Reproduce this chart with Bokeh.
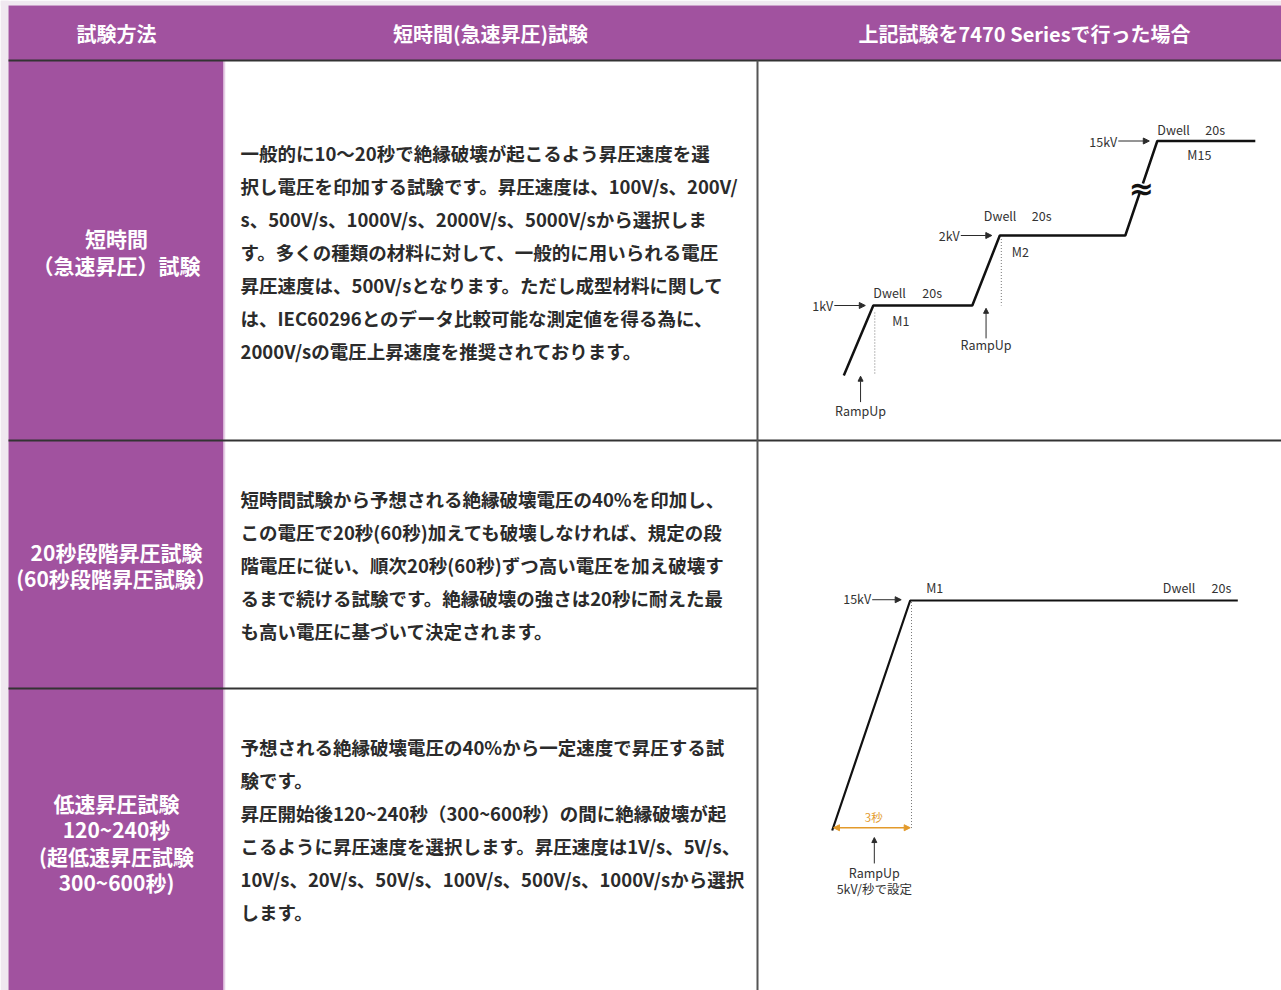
from bokeh.plotting import figure
from bokeh.models import Range1d, Arrow, NormalHead
from bokeh.core.properties import value
from bokeh.embed import file_html
from bokeh.resources import INLINE

# ---------------- data ----------------
HEADERS = ["試験方法", "短時間(急速昇圧)試験", "上記試験を7470 Seriesで行った場合"]

ROW_LABELS = [
    ["短時間", "（急速昇圧）試験"],
    ["20秒段階昇圧試験", "(60秒段階昇圧試験）"],
    ["低速昇圧試験", "120~240秒", "(超低速昇圧試験", "300~600秒)"],
]

ROW1_TEXT = [
    "一般的に10〜20秒で絶縁破壊が起こるよう昇圧速度を選",
    "択し電圧を印加する試験です。昇圧速度は、100V/s、200V/",
    "s、500V/s、1000V/s、2000V/s、5000V/sから選択しま",
    "す。多くの種類の材料に対して、一般的に用いられる電圧",
    "昇圧速度は、500V/sとなります。ただし成型材料に関して",
    "は、IEC60296とのデータ比較可能な測定値を得る為に、",
    "2000V/sの電圧上昇速度を推奨されております。",
]
ROW2_TEXT = [
    "短時間試験から予想される絶縁破壊電圧の40%を印加し、",
    "この電圧で20秒(60秒)加えても破壊しなければ、規定の段",
    "階電圧に従い、順次20秒(60秒)ずつ高い電圧を加え破壊す",
    "るまで続ける試験です。絶縁破壊の強さは20秒に耐えた最",
    "も高い電圧に基づいて決定されます。",
]
ROW3_TEXT = [
    "予想される絶縁破壊電圧の40%から一定速度で昇圧する試",
    "験です。",
    "昇圧開始後120~240秒（300~600秒）の間に絶縁破壊が起",
    "こるように昇圧速度を選択します。昇圧速度は1V/s、5V/s、",
    "10V/s、20V/s、50V/s、100V/s、500V/s、1000V/sから選択",
    "します。",
]

# step test profile (schematic time units, kV)
STEP_T = [0, 5.9, 25.7, 31.2, 56.3, 62.7, 82.3]
STEP_KV = [0, 1, 1, 2, 2, 15, 15]
STEP_MARKS = ["M1", "M2", "M15"]
DWELL_LABEL = ["Dwell", "20s"]

# fast ramp profile (s, kV)
FAST_T = [0, 3, 15.6]
FAST_KV = [0, 15, 15]
FAST_MARK = "M1"
FAST_TIME_LABEL = "3秒"
FAST_RAMP_LABEL = ["RampUp", "5kV/秒で設定"]

# ---------------- style / layout ----------------
PURPLE = "#a1529f"
LAVENDER = "#f0e8f0"
INK = "#2b2b2b"
GRID = "#333333"
ORANGE = "#e39a2b"
JP = value("Noto Sans CJK JP")

W, H = 1281, 990
XL, XR, YT, YB = 0, W, 0, H
COL_X = [8, 223, 757, XR]
HEAD_TOP = 5
HEAD_BOTTOM = 60
ROW_Y = [60, 440, 688, YB]


def lin_range(v_a, px_a, v_b, px_b, px_lo, px_hi):
    k = (v_b - v_a) / (px_b - px_a)
    return Range1d(start=v_a + (px_lo - px_a) * k, end=v_a + (px_hi - px_a) * k)


p = figure(width=W, height=H, output_backend="svg", toolbar_location=None,
           x_range=Range1d(XL, XR), y_range=Range1d(YB, YT),
           x_axis_type=None, y_axis_type=None, min_border=0,
           background_fill_color="white", border_fill_color="white")
p.outline_line_color = None
p.grid.visible = False

# diagram 1 scales: 5 px per time unit, 70 px per display level
D1_PXT, D1_PXL = 5.0, 70.0
p.extra_x_ranges["d1x"] = lin_range(0, 843.3, 1, 843.3 + D1_PXT, XL, XR)
p.extra_y_ranges["d1y"] = lin_range(0, 375, 1, 375 - D1_PXL, YB, YT)
# diagram 2 scales: 26 px per second, 230 px per 15 kV
D2_PXT, D2_PXV = 26.0, 230.0 / 15
p.extra_x_ranges["d2x"] = lin_range(0, 831.7, 1, 831.7 + D2_PXT, XL, XR)
p.extra_y_ranges["d2y"] = lin_range(0, 830, 1, 830 - D2_PXV, YB, YT)

# ---------------- table ----------------
p.quad(left=[XL, XL], right=[XR, COL_X[0]], top=[YT, YT], bottom=[HEAD_TOP, YB],
       color=LAVENDER, line_color=None)
p.quad(left=[COL_X[0]], right=[XR], top=[HEAD_TOP], bottom=[HEAD_BOTTOM], color=PURPLE, line_color=None)
p.quad(left=[COL_X[0]], right=[COL_X[1]], top=[HEAD_BOTTOM], bottom=[YB], color=PURPLE, line_color=None)
p.segment(x0=[COL_X[1] + 1], x1=[COL_X[1] + 1], y0=[HEAD_BOTTOM], y1=[YB],
          line_color="#e6cfe5", line_width=1.5)

p.segment(x0=[COL_X[0], COL_X[0], COL_X[0]], x1=[XR, XR, COL_X[2]],
          y0=[ROW_Y[0], ROW_Y[1], ROW_Y[2]], y1=[ROW_Y[0], ROW_Y[1], ROW_Y[2]],
          line_color=GRID, line_width=2)
p.segment(x0=[COL_X[2]], x1=[COL_X[2]], y0=[ROW_Y[0]], y1=[YB], line_color="#555555", line_width=2)

p.text(x=[116, 490, 1024], y=[33, 33, 33], text=HEADERS, text_font=JP, text_font_size="20px",
       text_font_style="bold", text_color="white", text_align="center", text_baseline="middle")

label_centers = [251, 564.5, 842]
for lines, yc in zip(ROW_LABELS, label_centers):
    n = len(lines)
    ys = [yc + (i - (n - 1) / 2) * 26.5 for i in range(n)]
    p.text(x=[116] * n, y=ys, text=lines, text_font=JP, text_font_size="21px",
           text_font_style="bold", text_color="white", text_align="center", text_baseline="middle")

for lines, y0 in [(ROW1_TEXT, 152), (ROW2_TEXT, 498), (ROW3_TEXT, 746)]:
    n = len(lines)
    p.text(x=[240] * n, y=[y0 + i * 33 for i in range(n)], text=lines, text_font=JP,
           text_font_size="18.5px", text_font_style="bold", text_color=INK,
           text_align="left", text_baseline="middle")


# ---------------- diagram 1: step test ----------------
BREAK_SCALE = 1.35 / 13


def brk(kv):
    return kv if kv <= 2 else 2 + (kv - 2) * BREAK_SCALE


lvl = [brk(v) for v in STEP_KV]
d1 = dict(x_range_name="d1x", y_range_name="d1y")
p.line(STEP_T, lvl, line_color="#111111", line_width=2.5, **d1)

corner_idx = [1, 3, 5]
ct = [STEP_T[i] for i in corner_idx]
cl = [lvl[i] for i in corner_idx]
ckv = [STEP_KV[i] for i in corner_idx]

lab_font = dict(text_font=JP, text_font_size="12.5px", text_color="#333333")
# kV level labels + arrows
p.text(x=[t - 40 / D1_PXT for t in ct], y=cl, text=[f"{v}kV" for v in ckv],
       text_align="right", text_baseline="middle", **lab_font, **d1)
for t, l in zip(ct, cl):
    p.add_layout(Arrow(end=NormalHead(size=6, fill_color=INK, line_color=INK),
                       x_start=t - 39 / D1_PXT, y_start=l, x_end=t - 8 / D1_PXT, y_end=l,
                       line_color=INK, line_width=1, **d1))
# Dwell / 20s / M labels
dwell_dx = [0, -16, 0]
dwell_dy = [13, 20, 12]
s20_dx = [49, 32, 48]
m_dx = [19, 12, 30]
m_dy = [15, 16, 13]
p.text(x=[t + dx / D1_PXT for t, dx in zip(ct, dwell_dx)],
       y=[l + dy / D1_PXL for l, dy in zip(cl, dwell_dy)], text=[DWELL_LABEL[0]] * 3,
       text_align="left", text_baseline="middle", **lab_font, **d1)
p.text(x=[t + dx / D1_PXT for t, dx in zip(ct, s20_dx)],
       y=[l + dy / D1_PXL for l, dy in zip(cl, dwell_dy)], text=[DWELL_LABEL[1]] * 3,
       text_align="left", text_baseline="middle", **lab_font, **d1)
p.text(x=[t + dx / D1_PXT for t, dx in zip(ct, m_dx)],
       y=[l - dy / D1_PXL for l, dy in zip(cl, m_dy)], text=STEP_MARKS,
       text_align="left", text_baseline="middle", **lab_font, **d1)
# dotted drops under M1, M2
p.segment(x0=[ct[0] + 0.3, ct[1] + 0.3], x1=[ct[0] + 0.3, ct[1] + 0.3],
          y0=[cl[0] - 0.1, cl[1] - 0.05], y1=[lvl[0], lvl[1]],
          line_color="#777777", line_width=1, line_dash="1 2", **d1)
# RampUp arrows
r1 = (STEP_T[0] + STEP_T[1]) / 2 + 0.4
r2 = (STEP_T[2] + STEP_T[3]) / 2
for x, ys, ye in [(r1, lvl[0] - 0.38, lvl[0] - 0.01), (r2, lvl[2] - 0.47, lvl[2] - 0.04)]:
    p.add_layout(Arrow(end=NormalHead(size=5, fill_color=INK, line_color=INK),
                       x_start=x, y_start=ys, x_end=x, y_end=ye,
                       line_color=INK, line_width=1, **d1))
p.text(x=[r1, r2], y=[lvl[0] - 0.5, lvl[2] - 0.56], text=["RampUp", "RampUp"],
       text_align="center", text_baseline="middle", **lab_font, **d1)
# axis break mark on the last ramp: gap in the line + double tilde
bx0, bx1 = STEP_T[4], STEP_T[5]
bl0, bl1 = lvl[4], lvl[5]
bm = 0.5
gap = 0.05
gx = [bx0 + (bx1 - bx0) * (bm - gap), bx0 + (bx1 - bx0) * (bm + gap)]
gy = [bl0 + (bl1 - bl0) * (bm - gap), bl0 + (bl1 - bl0) * (bm + gap)]
p.line(gx, gy, line_color="white", line_width=5, **d1)
p.text(x=[bx0 + (bx1 - bx0) * bm], y=[bl0 + (bl1 - bl0) * bm], text=["≈"],
       text_font=value("DejaVu Sans"), text_font_size="30px", text_font_style="bold",
       text_color="#111111", text_align="center", text_baseline="middle", **d1)

# ---------------- diagram 2: fast ramp ----------------
d2 = dict(x_range_name="d2x", y_range_name="d2y")
p.line(FAST_T, FAST_KV, line_color="#111111", line_width=2.2, **d2)
tp, vp = FAST_T[1], FAST_KV[1]
p.segment(x0=[tp + 0.05], x1=[tp + 0.05], y0=[vp - 0.1], y1=[FAST_KV[0] + 0.1],
          line_color="#777777", line_width=1, line_dash="1 2", **d2)
p.add_layout(Arrow(start=NormalHead(size=6, fill_color=ORANGE, line_color=ORANGE),
                   end=NormalHead(size=6, fill_color=ORANGE, line_color=ORANGE),
                   x_start=FAST_T[0] + 0.05, y_start=0.18, x_end=tp, y_end=0.18,
                   line_color=ORANGE, line_width=1.5, **d2))
p.text(x=[(FAST_T[0] + tp) / 2 + 0.1], y=[0.9], text=[FAST_TIME_LABEL], text_font=JP,
       text_font_size="11.5px", text_color=ORANGE, text_align="center", text_baseline="middle", **d2)
xa = (FAST_T[0] + tp) / 2 + 0.12
p.add_layout(Arrow(end=NormalHead(size=5, fill_color=INK, line_color=INK),
                   x_start=xa, y_start=-2.15, x_end=xa, y_end=-0.46,
                   line_color=INK, line_width=1, **d2))
p.text(x=[xa, xa], y=[-2.72, -3.8], text=FAST_RAMP_LABEL,
       text_align="center", text_baseline="middle", **lab_font, **d2)
p.text(x=[tp - 39 / D2_PXT], y=[vp + 0.1], text=[f"{vp}kV"],
       text_align="right", text_baseline="middle", **lab_font, **d2)
p.add_layout(Arrow(end=NormalHead(size=6, fill_color=INK, line_color=INK),
                   x_start=tp - 38 / D2_PXT, y_start=vp + 0.05, x_end=tp - 9 / D2_PXT, y_end=vp + 0.05,
                   line_color=INK, line_width=1, **d2))
p.text(x=[tp + 16 / D2_PXT], y=[vp + 13 / D2_PXV], text=[FAST_MARK],
       text_align="left", text_baseline="middle", **lab_font, **d2)
p.text(x=[FAST_T[2] - 75 / D2_PXT], y=[vp + 13 / D2_PXV], text=[DWELL_LABEL[0]],
       text_align="left", text_baseline="middle", **lab_font, **d2)
p.text(x=[FAST_T[2] - 6.5 / D2_PXT], y=[vp + 13 / D2_PXV], text=[DWELL_LABEL[1]],
       text_align="right", text_baseline="middle", **lab_font, **d2)

open("out.html", "w").write(file_html(p, INLINE))
